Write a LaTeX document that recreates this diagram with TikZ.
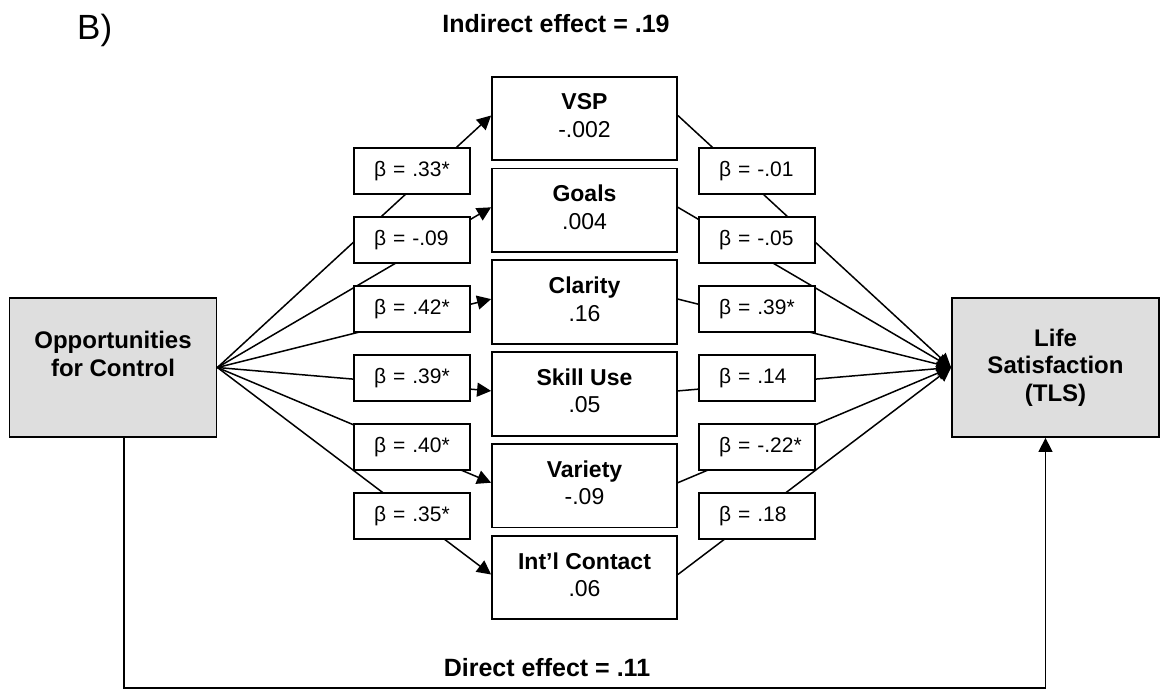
\documentclass[tikz,border=0pt]{standalone}
\usepackage{fontspec}
\setmainfont{Liberation Sans}
\usetikzlibrary{arrows.meta}
\pgfdeclarelayer{wires}
\pgfsetlayers{wires,main}

\begin{document}
\begin{tikzpicture}[x=1pt, y=-1pt,
  endbox/.style={draw=black, fill=black!13, line width=1.8pt,
    minimum width=207pt, minimum height=139pt, inner sep=0pt,
    align=center, font=\fontsize{24}{27.5}\selectfont\bfseries},
  medbox/.style={draw=black, fill=white, line width=1.8pt,
    minimum width=185pt, minimum height=83.5pt, inner sep=0pt,
    align=center, text depth=6pt, font=\fontsize{23}{27.3}\selectfont},
  coef/.style={draw=black, fill=white, line width=1.5pt,
    text width=116pt, align=left, inner xsep=0pt, inner ysep=0pt,
    minimum height=46pt, font=\fontsize{21}{24}\selectfont,
    execute at begin node={\hspace*{20pt}}},
  wire/.style={line width=1.5pt},
  arr/.style={wire, -{Triangle[length=14pt, width=14pt]}},
  heading/.style={font=\fontsize{25}{28}\selectfont\bfseries, inner sep=0pt}
]
\useasboundingbox (0,0) rectangle (1160,689);

% panel letter and effect headings
\node[font=\fontsize{35}{40}\selectfont, inner sep=0pt, anchor=base west] (panel) at (77,39) {B)};
\node[heading, anchor=base] (indirect) at (556,32) {Indirect effect = .19};
\node[heading, anchor=base] (direct) at (547,676) {Direct effect = .11};

% predictor and outcome
\node[endbox] (opp) at (113,367.5) {Opportunities\\for Control\\\mbox{}};
\node[endbox] (life) at (1055.5,367.5) {Life\\Satisfaction\\(TLS)};

% mediators
\node[medbox] (m1) at (584.5,118.5) {\textbf{VSP}\\-.002};
\node[medbox] (m2) at (584.5,210.3) {\textbf{Goals}\\.004};
\node[medbox] (m3) at (584.5,302.1) {\textbf{Clarity}\\.16};
\node[medbox] (m4) at (584.5,393.9) {\textbf{Skill Use}\\.05};
\node[medbox] (m5) at (584.5,485.7) {\textbf{Variety}\\-.09};
\node[medbox] (m6) at (584.5,577.5) {\textbf{Int’l Contact}\\.06};

% a paths
\node[coef] (a1) at (412,171) {β = .33*};
\node[coef] (a2) at (412,240) {β = -.09};
\node[coef] (a3) at (412,309) {β = .42*};
\node[coef] (a4) at (412,378) {β = .39*};
\node[coef] (a5) at (412,447) {β = .40*};
\node[coef] (a6) at (412,516) {β = .35*};

% b paths
\node[coef] (b1) at (757,171) {β = -.01};
\node[coef] (b2) at (757,240) {β = -.05};
\node[coef] (b3) at (757,309) {β = .39*};
\node[coef] (b4) at (757,378) {β = .14};
\node[coef] (b5) at (757,447) {β = -.22*};
\node[coef] (b6) at (757,516) {β = .18};

\coordinate (floor) at (584,688);

\begin{pgfonlayer}{wires}
  \foreach \m in {m1,m2,m3,m4,m5,m6}{
    \draw[arr] (opp.east) -- ([yshift=3pt]\m.west);
    \draw[arr] ([yshift=3pt]\m.east) -- (life.west);
  }
  \draw[arr] ([xshift=11pt]opp.south) |- (floor) -| ([xshift=-10pt]life.south);
\end{pgfonlayer}
\end{tikzpicture}
\end{document}
